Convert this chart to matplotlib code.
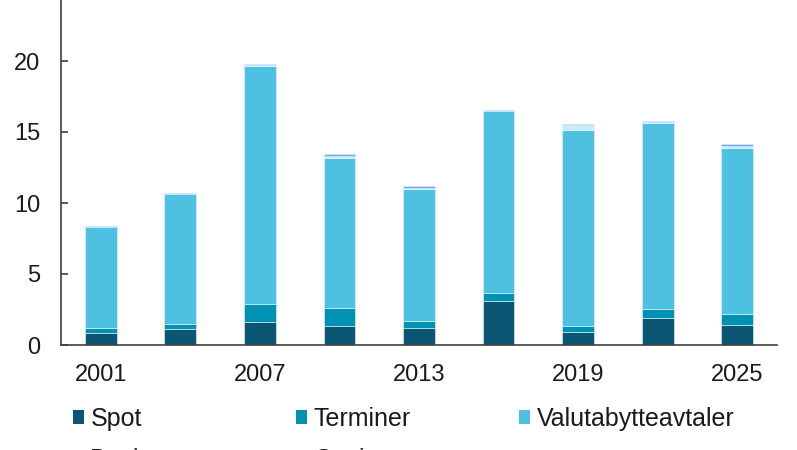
import numpy as np
import matplotlib
matplotlib.use("Agg")
from matplotlib import pyplot as plt
from matplotlib.patches import Patch

plt.rcParams['font.family'] = ['Liberation Sans', 'DejaVu Sans']

# Valutaomsetning fordelt på instrument
years = ["2001", "2004", "2007", "2010", "2013", "2016", "2019", "2022", "2025"]
spot = [0.85, 1.13, 1.60, 1.31, 1.22, 3.12, 0.94, 1.88, 1.41]
terminer = [0.37, 0.35, 1.27, 1.32, 0.49, 0.52, 0.42, 0.66, 0.77]
valutabytte = [7.07, 9.12, 16.80, 10.52, 9.28, 12.81, 13.80, 13.07, 11.72]
basisswapper = [0.03, 0.04, 0.05, 0.18, 0.09, 0.04, 0.36, 0.08, 0.14]
opsjoner = [0.05, 0.06, 0.07, 0.14, 0.12, 0.06, 0.07, 0.08, 0.14]

series = [("Spot", spot, "#0B5673"),
          ("Terminer", terminer, "#0091B3"),
          ("Valutabytteavtaler", valutabytte, "#4EC1E2"),
          ("Basisswapper", basisswapper, "#C8ECF6"),
          ("Opsjoner", opsjoner, "#66A3F0")]

fig = plt.figure(figsize=(7.97, 4.5), dpi=100, facecolor='white')
ax = fig.add_axes([61/797, 1 - 345/450, (777 - 61)/797, 345/450])

x = np.arange(len(years))
bottom = np.zeros(len(years))
for name, vals, col in series:
    ax.bar(x, vals, 0.4, bottom=bottom, color=col, label=name,
           edgecolor='#E8F6FB', linewidth=0.4)
    bottom += np.array(vals)

ax.set_xlim(-0.5, len(years) - 0.5)
ax.set_ylim(0, 345/14.2)
ax.set_yticks([0, 5, 10, 15, 20])
ax.set_xticks(x[::2])
ax.set_xticklabels(years[::2])

for s in ["top", "right"]:
    ax.spines[s].set_visible(False)
for s in ["left", "bottom"]:
    ax.spines[s].set_color("#404040")
    ax.spines[s].set_linewidth(1.2)

ax.tick_params(axis='y', direction='in', length=5, width=1.2, color="#404040",
               labelsize=17, pad=15, labelcolor="#1a1a1a")
ax.tick_params(axis='x', length=0, labelsize=17, pad=14, labelcolor="#1a1a1a")

# legenden: tre kolonner, radvis som i originalen
cols = {n: c for n, _, c in series}
groups = [["Spot", "Basisswapper"], ["Terminer", "Opsjoner"], ["Valutabytteavtaler"]]
col_x = [73, 296, 519]
for names, xpos in zip(groups, col_x):
    hs = [Patch(facecolor=cols[n], edgecolor='none') for n in names]
    fig.legend(hs, names, loc='upper left', ncol=1, frameon=False,
               bbox_to_anchor=(xpos/797, 1 - 407/450), fontsize=18,
               handlelength=0.45, handleheight=0.45, handletextpad=0.25,
               labelspacing=0.66, borderpad=0, borderaxespad=0,
               labelcolor="#1a1a1a")

plt.savefig("out.png", dpi=100, facecolor='white')
plt.close(fig)
